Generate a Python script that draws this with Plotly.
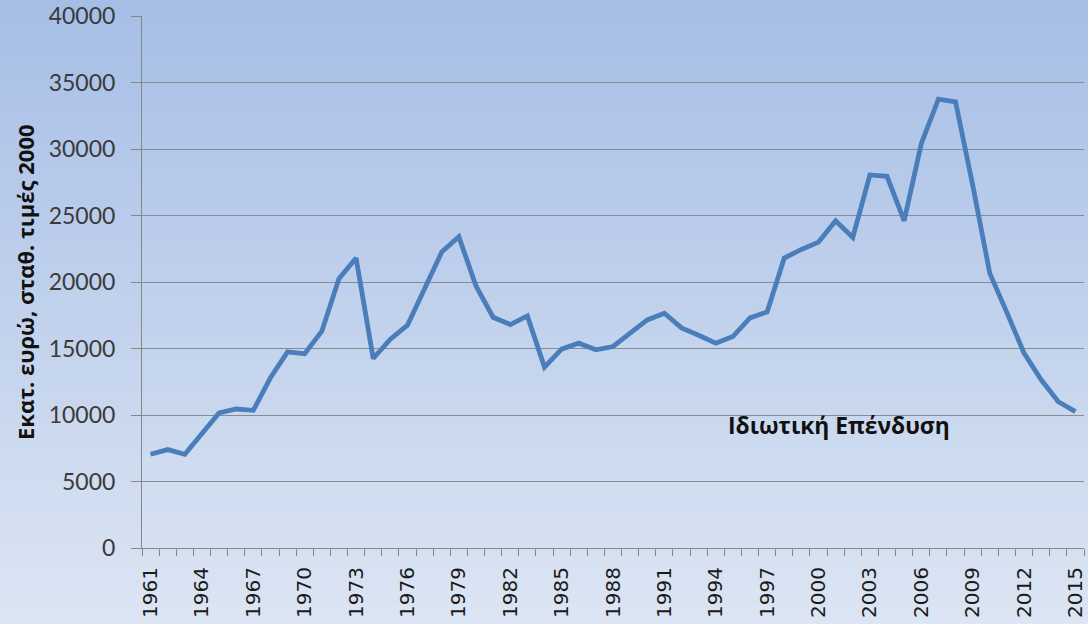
import plotly.graph_objects as go

years = list(range(1961, 2016))
investment = [7050, 7400, 7050, 8600, 10150, 10450, 10350, 12800, 14750, 14600,
              16300, 20250, 21800, 14250, 15700, 16750, 19400, 22250, 23400, 19700,
              17350, 16800, 17450, 13600, 14950, 15400, 14900, 15150, 16150, 17150,
              17650, 16550, 16000, 15400, 15900, 17300, 17750, 21800, 22450, 23000,
              24600, 23350, 28050, 27950, 24600, 30400, 33750, 33550, 27300, 20650,
              17700, 14650, 12650, 11000, 10250]
label_years = list(range(1961, 2016, 3))
y_ticks = list(range(0, 40001, 5000))
series_label = "Ιδιωτική Επένδυση"
y_title = "Εκατ. ευρώ, σταθ. τιμές 2000"

W, H = 1088, 624
ML, MT, MR, MB = 142, 16, 4, 76
pw, ph = W - ML - MR, H - MT - MB

fig = go.Figure()
fig.add_trace(go.Scatter(x=years, y=investment, mode="lines",
                         line=dict(color="#4a7ebb", width=4.8), hoverinfo="x+y",
                         showlegend=False, cliponaxis=False))

# gradient background bands
top = (166, 190, 230)
bot = (220, 229, 243)
n = 64
shapes = []
y_top = 1 + MT / ph
y_bot = -MB / ph
for i in range(n):
    t0 = i / n
    t1 = (i + 1) / n
    c = tuple(round(top[k] + (bot[k] - top[k]) * (i + 0.5) / n) for k in range(3))
    shapes.append(dict(type="rect", xref="paper", yref="paper",
                       x0=-ML / pw - 0.01, x1=1 + MR / pw + 0.01,
                       y0=y_top - (y_top - y_bot) * t1 - 0.002,
                       y1=y_top - (y_top - y_bot) * t0,
                       fillcolor="rgb(%d,%d,%d)" % c, line=dict(width=0), layer="below"))

fig.update_layout(
    width=W, height=H,
    margin=dict(l=ML, r=MR, t=MT, b=MB, autoexpand=False),
    paper_bgcolor="rgb(193,209,236)", plot_bgcolor="rgba(0,0,0,0)",
    shapes=shapes,
    xaxis=dict(range=[1960.5, 2015.5], tickvals=label_years,
               ticktext=[str(v) for v in label_years], tickangle=-90,
               ticks="", showgrid=False, zeroline=False,
               showline=True, linecolor="#868686", linewidth=1,
               tickfont=dict(family="DejaVu Sans", size=20, color="#1a1a1a"),
               minor=dict(ticks="outside", tick0=1960.5, dtick=1, ticklen=7,
                          tickcolor="#868686", showgrid=False),
               ticklabelstandoff=10, ticklabeloverflow="allow",
               automargin=False, fixedrange=True),
    yaxis=dict(range=[0, 40000], tickvals=y_ticks, ticktext=[str(v) for v in y_ticks],
               ticks="outside", ticklen=10, tickcolor="#868686",
               showgrid=True, gridcolor="#868b94", gridwidth=1,
               zeroline=False, showline=True, linecolor="#868686", linewidth=1,
               tickfont=dict(family="Lato", size=23, color="#3a3a3a"),
               ticklabelstandoff=11, ticklabeloverflow="allow",
               automargin=False, fixedrange=True),
    annotations=[
        dict(text="<b>" + y_title + "</b>", xref="paper", yref="paper",
             x=(25 - ML) / pw, y=0.5, textangle=-90, showarrow=False,
             font=dict(family="Open Sans", size=22, color="#111111"),
             xanchor="center", yanchor="middle"),
        dict(text="<b>" + series_label + "</b>", xref="paper", yref="paper",
             x=(726 - ML) / pw, y=(548 - 425) / ph, showarrow=False,
             font=dict(family="Open Sans", size=22.8, color="#111111"),
             xanchor="left", yanchor="middle"),
    ],
)

fig.write_html("out.html", config={"displayModeBar": False},
               post_script="document.body.style.margin='0';document.body.style.overflow='hidden';")
